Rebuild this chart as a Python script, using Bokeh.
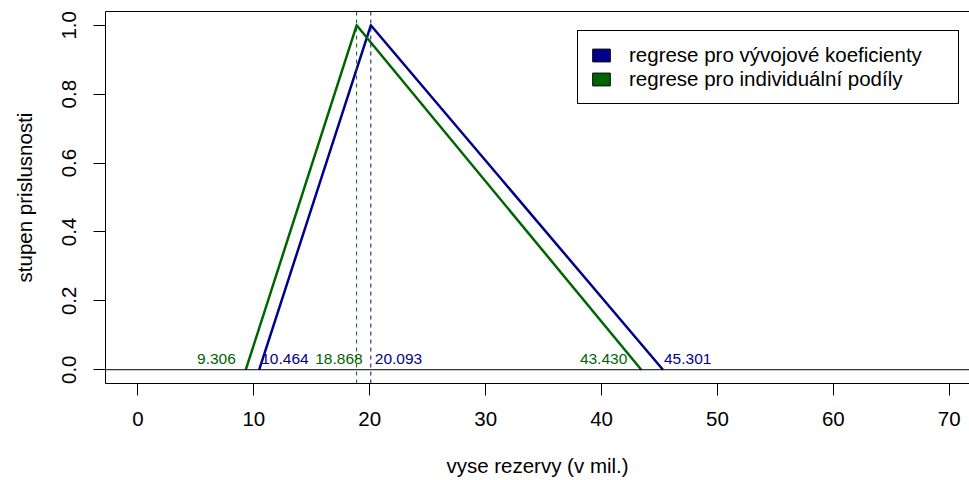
from bokeh.plotting import figure
from bokeh.models import (Range1d, FixedTicker, PrintfTickFormatter, Span, Legend,
                          LegendItem, LinearAxis, ColumnDataSource)
from bokeh.core.properties import value
from bokeh.embed import file_html
from bokeh.resources import INLINE

# ---- data ----
series_names = ["regrese pro vývojové koeficienty", "regrese pro individuální podíly"]
blue_x = [10.464, 20.093, 45.301]      # vývojové koeficienty (left, peak, right)
green_x = [9.306, 18.868, 43.430]      # individuální podíly (left, peak, right)
membership = [0.0, 1.0, 0.0]
x_ticks = [0, 10, 20, 30, 40, 50, 60, 70]
y_ticks = [0.0, 0.2, 0.4, 0.6, 0.8, 1.0]

# ---- styles ----
FONT = "Liberation Sans"
FS = "20.5px"
FS_SMALL = "15.5px"
BLUE = "#00008B"
GREEN = "#006400"
# label placement (align, pixel offset) for left/peak/right points
blue_align = ["left", "left", "left"]
blue_dx = [2, 4, 1]
green_align = ["right", "right", "right"]
green_dx = [-10, 6, -14]

p = figure(width=969, height=480, output_backend="svg", toolbar_location=None,
           x_range=Range1d(-2.8, 71.75), y_range=Range1d(-0.04, 1.04),
           min_border_left=105, min_border_right=0, min_border_top=11,
           min_border_bottom=97, background_fill_color="white",
           border_fill_color="white")
p.outline_line_color = None
p.xgrid.visible = False
p.ygrid.visible = False

# axes
p.xaxis.ticker = FixedTicker(ticks=x_ticks)
p.xaxis.formatter = PrintfTickFormatter(format="%d")
p.yaxis.ticker = FixedTicker(ticks=y_ticks)
p.yaxis.formatter = PrintfTickFormatter(format="%.1f")
p.xaxis.axis_label = "vyse rezervy (v mil.)"
p.yaxis.axis_label = "stupen prislusnosti"
p.yaxis.major_label_orientation = "vertical"
for ax in (p.xaxis[0], p.yaxis[0]):
    ax.major_tick_out = 12
    ax.major_tick_in = 0
    ax.minor_tick_out = 0
    ax.minor_tick_in = 0
    ax.axis_line_color = "black"
    ax.major_tick_line_color = "black"
    ax.major_label_text_font = FONT
    ax.major_label_text_font_size = FS
    ax.major_label_text_color = "black"
    ax.axis_label_text_font = FONT
    ax.axis_label_text_font_size = FS
    ax.axis_label_text_font_style = "normal"
    ax.axis_label_text_color = "black"
p.xaxis.major_label_standoff = 16
p.xaxis.axis_label_standoff = 25
p.yaxis.major_label_standoff = 17
p.yaxis.axis_label_standoff = 24

# top border as a bare axis
top = LinearAxis(ticker=FixedTicker(ticks=[]), major_tick_out=0, major_tick_in=0,
                 minor_tick_out=0, minor_tick_in=0, major_label_standoff=0,
                 axis_line_color="black")
p.add_layout(top, "above")

# zero line
p.add_layout(Span(location=0, dimension="width", line_color="black", line_width=1))

# triangles
p.line(blue_x, membership, line_color=BLUE, line_width=2.5, line_join="round")
p.line(green_x, membership, line_color=GREEN, line_width=2.5, line_join="round")

# dashed peaks
p.add_layout(Span(location=green_x[1], dimension="height", line_color=GREEN,
                  line_width=1, line_dash="4 4"))
p.add_layout(Span(location=blue_x[1], dimension="height", line_color=BLUE,
                  line_width=1, line_dash="4 4"))

# value labels
for xs, col, al, dx in ((green_x, GREEN, green_align, green_dx),
                        (blue_x, BLUE, blue_align, blue_dx)):
    src = ColumnDataSource(dict(x=xs, y=[0.0] * len(xs),
                                t=["%.3f" % v for v in xs], a=al, dx=dx))
    p.text(x="x", y="y", text="t", source=src, text_align="a", x_offset="dx",
           y_offset=-11, text_baseline="middle", text_color=col,
           text_font=value(FONT), text_font_size=FS_SMALL)

# legend keys (zero-size blocks at the peaks; only their legend swatch shows)
key_b = p.block(x=[blue_x[1]], y=[membership[1]], width=0, height=0,
                fill_color=BLUE, line_color="black", line_width=1)
key_g = p.block(x=[green_x[1]], y=[membership[1]], width=0, height=0,
                fill_color=GREEN, line_color="black", line_width=1)
legend = Legend(items=[LegendItem(label=series_names[0], renderers=[key_b]),
                       LegendItem(label=series_names[1], renderers=[key_g])],
                location=(472, 279), margin=0, padding=12, spacing=0,
                glyph_width=22, glyph_height=16, label_standoff=17,
                label_width=317, label_height=24,
                label_text_font=FONT, label_text_font_size=FS,
                label_text_color="black",
                border_line_color="black", border_line_width=1,
                border_line_alpha=1.0,
                background_fill_color="white", background_fill_alpha=1.0)
p.add_layout(legend)

open("out.html", "w").write(file_html(p, INLINE))
